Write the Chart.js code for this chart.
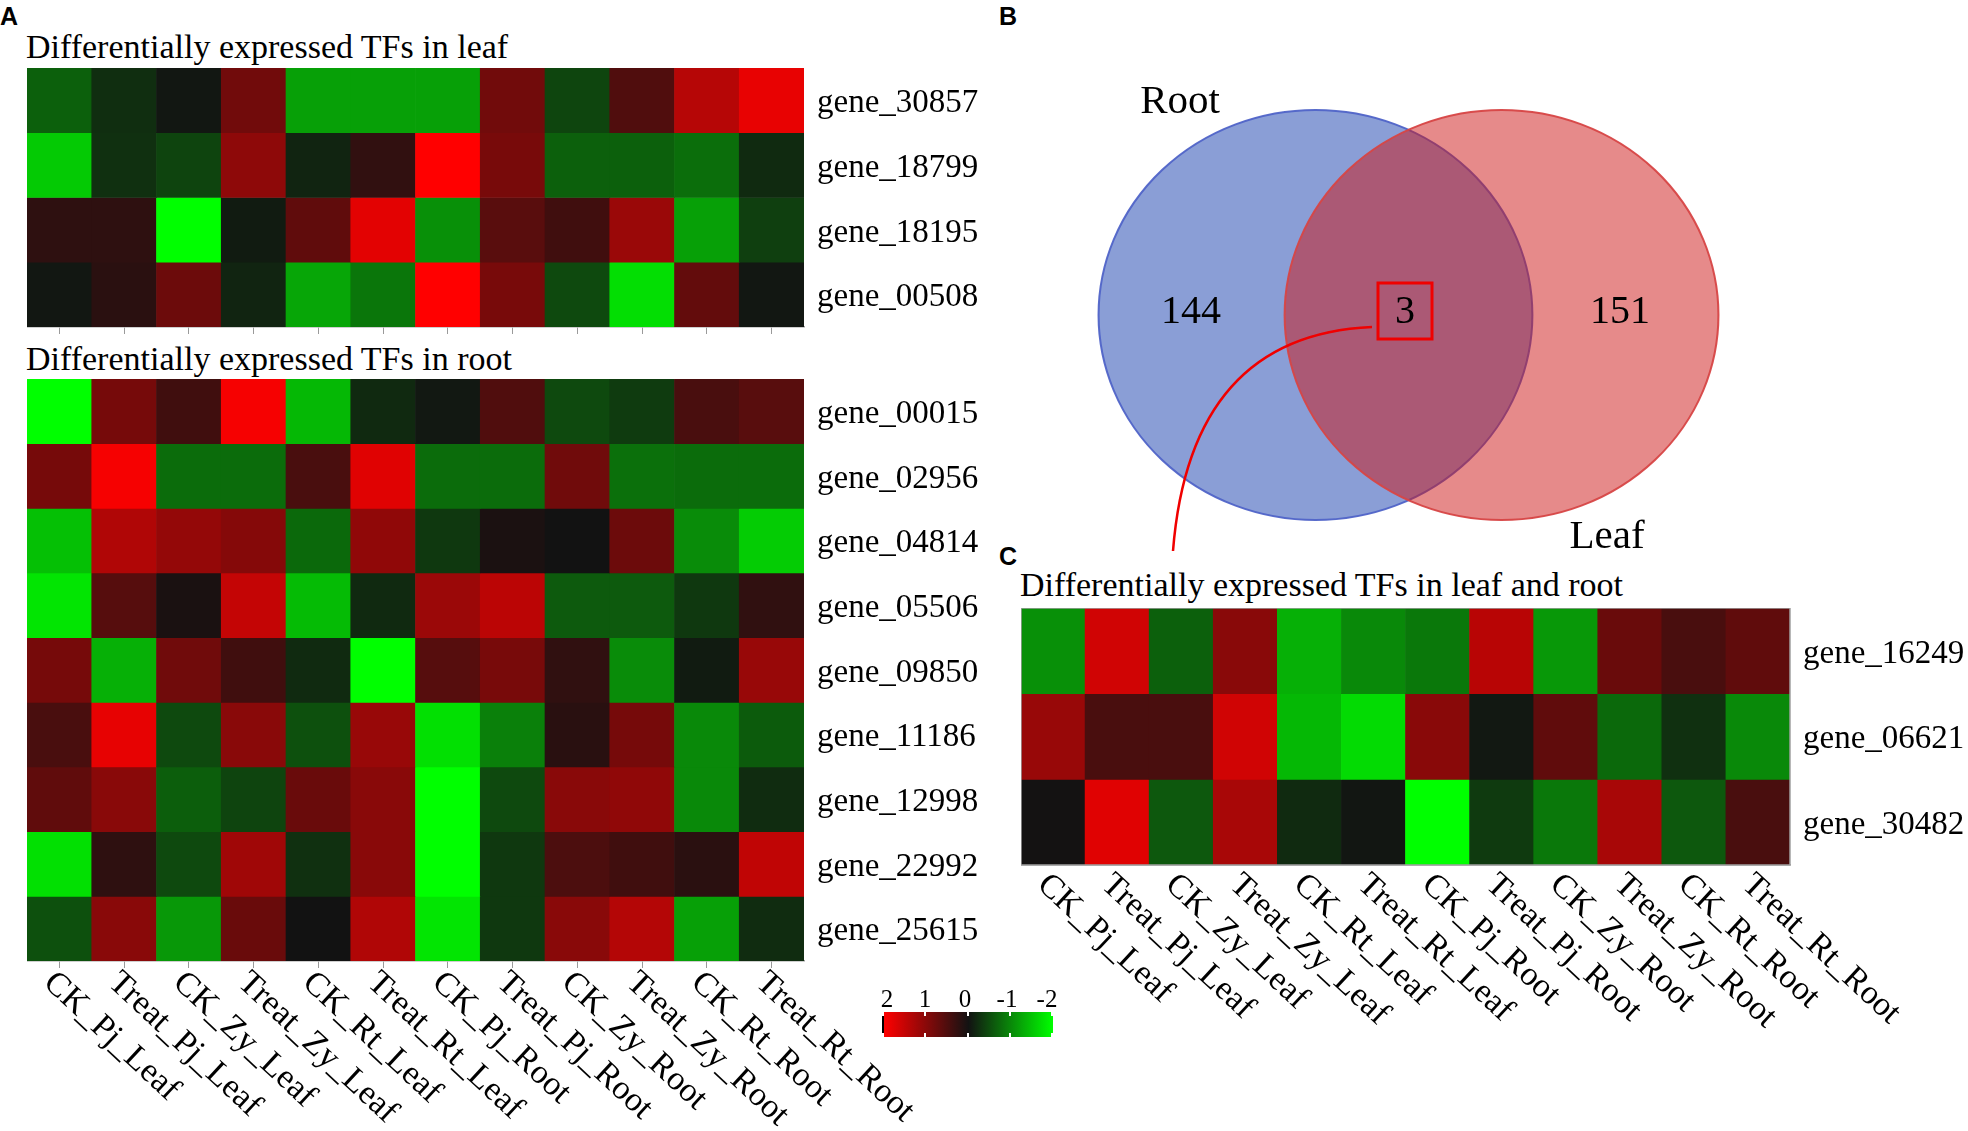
<!DOCTYPE html>
<html>
<head>
<meta charset="utf-8">
<script src="https://cdn.jsdelivr.net/npm/chart.js@4.4.1/dist/chart.umd.min.js"></script>
<style>
  html, body { margin: 0; padding: 0; background: #fff; }
  body { width: 1968px; height: 1131px; position: relative; overflow: hidden; font-family: "Liberation Serif", serif; }
  .abs { position: absolute; }
  .panel { font-family: "Liberation Sans", Arial, sans-serif; font-weight: bold; font-size: 25px; line-height: 25px; }
  .title { font-size: 34px; line-height: 34px; white-space: nowrap; color: #000; }
  #scaleBar { left: 882px; top: 1012px; width: 171px; height: 25px;
    background: linear-gradient(to right, #ff0000, #121212 50%, #00ff00); border-left: 2px solid #000; box-sizing: border-box; }
  .tk { position: absolute; width: 2px; height: 4px; background: #fff; }
  .scaleLbl { position: absolute; top: 986px; font-size: 25px; line-height: 25px; transform: translateX(-50%); }
</style>
</head>
<body>
<div class="abs panel" style="left:0px;top:4px">A</div>
<div class="abs panel" style="left:999px;top:4px">B</div>
<div class="abs panel" style="left:999px;top:544px">C</div>

<div class="abs title" style="left:26px;top:30px">Differentially expressed TFs in leaf</div>
<div class="abs title" style="left:26px;top:342px">Differentially expressed TFs in root</div>
<div class="abs title" style="left:1020px;top:568px">Differentially expressed TFs in leaf and root</div>

<canvas id="leafChart" class="abs" width="977" height="269" style="left:27px;top:68px"></canvas>
<canvas id="rootChart" class="abs" width="977" height="752" style="left:27px;top:379px"></canvas>
<canvas id="commonChart" class="abs" width="947" height="457" style="left:1021px;top:608px"></canvas>
<canvas id="vennChart" class="abs" width="700" height="490" style="left:1060px;top:70px"></canvas>

<div id="scaleBar" class="abs"></div>
<div id="scaleLabels"></div>

<script>
// column labels shared by all three heatmaps
const samples = ['CK_Pj_Leaf', 'Treat_Pj_Leaf', 'CK_Zy_Leaf', 'Treat_Zy_Leaf', 'CK_Rt_Leaf', 'Treat_Rt_Leaf',
                 'CK_Pj_Root', 'Treat_Pj_Root', 'CK_Zy_Root', 'Treat_Zy_Root', 'CK_Rt_Root', 'Treat_Rt_Root'];

// A (top): TFs in leaf
const leafGenes = ['gene_30857', 'gene_18799', 'gene_18195', 'gene_00508'];
const leafValues = [
    [-0.66, -0.24, -0.04, 0.80, -1.20, -1.20, -1.20, 0.80, -0.43, 0.52, 1.38, 1.81],
    [-1.55, -0.25, -0.42, 1.05, -0.15, 0.26, 2.00, 0.86, -0.66, -0.66, -0.78, -0.20],
    [0.24, 0.24, -2.00, -0.08, 0.66, 1.76, -1.06, 0.60, 0.39, 1.15, -1.20, -0.38],
    [-0.04, 0.20, 0.76, -0.15, -1.25, -0.84, 2.00, 0.86, -0.46, -1.72, 0.68, -0.04]
];

// A (bottom): TFs in root
const rootGenes = ['gene_00015', 'gene_02956', 'gene_04814', 'gene_05506', 'gene_09850',
                   'gene_11186', 'gene_12998', 'gene_22992', 'gene_25615'];
const rootValues = [
    [-2.00, 0.84, 0.39, 1.92, -1.40, -0.19, -0.05, 0.52, -0.46, -0.35, 0.46, 0.59],
    [0.84, 1.92, -0.76, -0.76, 0.46, 1.74, -0.76, -0.76, 0.79, -0.79, -0.76, -0.76],
    [-1.47, 1.33, 1.10, 0.97, -0.73, 1.06, -0.32, 0.08, 0.00, 0.76, -1.03, -1.57],
    [-1.78, 0.57, 0.07, 1.50, -1.43, -0.19, 1.16, 1.43, -0.61, -0.61, -0.32, 0.25],
    [0.84, -1.33, 0.79, 0.39, -0.20, -2.00, 0.57, 0.86, 0.25, -1.03, -0.08, 1.13],
    [0.46, 1.80, -0.46, 1.00, -0.52, 1.13, -1.74, -0.93, 0.19, 0.84, -1.00, -0.62],
    [0.66, 1.00, -0.64, -0.42, 0.73, 1.00, -2.00, -0.46, 1.00, 1.06, -1.00, -0.22],
    [-1.74, 0.24, -0.46, 1.20, -0.25, 1.00, -2.00, -0.32, 0.49, 0.39, 0.20, 1.47],
    [-0.52, 1.00, -1.13, 0.73, 0.00, 1.33, -1.78, -0.32, 1.00, 1.37, -1.20, -0.22]
];

// C: TFs shared by leaf and root
const commonGenes = ['gene_16249', 'gene_06621', 'gene_30482'];
const commonValues = [
    [-1.06, 1.60, -0.66, 1.00, -1.33, -1.00, -0.86, 1.40, -1.13, 0.73, 0.46, 0.66],
    [1.13, 0.46, 0.46, 1.60, -1.40, -1.70, 1.00, -0.05, 0.66, -0.73, -0.25, -1.00],
    [0.02, 1.74, -0.59, 1.27, -0.20, -0.03, -2.00, -0.34, -0.86, 1.27, -0.59, 0.46]
];

// colour key
const scaleTicks = [2, 1, 0, -1, -2];

// B: Venn
const vennSets = ['Root', 'Leaf'];
const vennCounts = [144, 3, 151];   // root only, both, leaf only

const serif = 'Liberation Serif';

// red - black - green colour map
function toColor(v) {
    const t = Math.min(Math.abs(v), 2) / 2;
    const hi = Math.round(18 + 237 * t);
    const lo = Math.round(18 * (1 - t));
    return v >= 0 ? `rgb(${hi},${lo},${lo})` : `rgb(${lo},${hi},${lo})`;
}

// sample names slanted under the heatmap
const slantLabels = (dx, dy) => ({
    id: 'slantLabels',
    afterDraw(chart) {
        const { ctx, chartArea } = chart;
        const xs = chart.scales.x;
        ctx.save();
        ctx.font = `34px "${serif}"`;
        ctx.fillStyle = '#000';
        ctx.textAlign = 'left';
        ctx.textBaseline = 'middle';
        xs.ticks.forEach((t, i) => {
            ctx.save();
            ctx.translate(xs.getPixelForTick(i) + dx, chartArea.bottom + dy);
            ctx.rotate(43 * Math.PI / 180);
            ctx.fillText(xs.getLabelForValue(t.value), 0, 0);
            ctx.restore();
        });
        ctx.restore();
    }
});

const framePlugin = {
    id: 'frame',
    afterDatasetsDraw(chart) {
        const { ctx, chartArea: a } = chart;
        ctx.save();
        ctx.strokeStyle = '#a0a0a0';
        ctx.lineWidth = 1.5;
        ctx.strokeRect(a.left, a.top, a.right - a.left, a.bottom - a.top);
        ctx.restore();
    }
};

function heatmap(id, genes, values, opt) {
    const datasets = genes.map((gene, r) => ({
        label: gene,
        data: samples.map(() => [r, r + 1]),
        backgroundColor: values[r].map(toColor),
        borderWidth: 0,
        grouped: false,
        barPercentage: 1,
        categoryPercentage: 1
    }));
    return new Chart(document.getElementById(id), {
        type: 'bar',
        data: { labels: samples, datasets: datasets },
        options: {
            responsive: false,
            animation: false,
            events: [],
            layout: { padding: 0, autoPadding: false },
            plugins: { legend: { display: false }, tooltip: { enabled: false } },
            scales: {
                x: {
                    offset: true,
                    grid: { display: opt.ticks, drawOnChartArea: false, drawTicks: opt.ticks, tickLength: 7, color: '#9a9a9a', offset: false },
                    border: { display: true, color: '#a0a0a0', width: 1.5 },
                    ticks: { display: false, autoSkip: false },
                    afterFit: s => { s.height = opt.bottom; s.paddingLeft = 0; s.paddingRight = 0; }
                },
                y: {
                    type: 'linear',
                    position: 'right',
                    min: 0,
                    max: genes.length,
                    reverse: true,
                    grid: { display: false, drawTicks: false },
                    border: { display: false },
                    afterBuildTicks: s => { s.ticks = genes.map((g, i) => ({ value: i + 0.5 })); },
                    ticks: {
                        autoSkip: false,
                        padding: 13,
                        labelOffset: 3,
                        color: '#000',
                        font: { family: serif, size: 33 },
                        callback: v => genes[Math.floor(v)]
                    },
                    afterFit: s => { s.width = opt.right; s.paddingTop = 0; s.paddingBottom = 0; }
                }
            }
        },
        plugins: opt.plugins
    });
}

heatmap('leafChart', leafGenes, leafValues, { ticks: true, bottom: 10, right: 200, plugins: [] });
heatmap('rootChart', rootGenes, rootValues, { ticks: true, bottom: 170, right: 200, plugins: [slantLabels(-11, 17)] });
heatmap('commonChart', commonGenes, commonValues, { ticks: false, bottom: 200, right: 178, plugins: [framePlugin, slantLabels(-11, 15)] });

// Venn layout, in canvas pixels (y down); the sets are drawn slightly oval
const vennCenters = [[258, 245], [439, 245]];
const vennRadius = 211;
const vennStretch = [1.028, 0.972];
const setLabelPos = [[120, 32], [547, 467]];
const countPos = [[131, 242], [345, 242], [560, 242]];
const boxRect = [318, 213, 372, 269];
const linkCurve = [[312, 257], [130, 265], [113, 481]];

const vennAnnotations = {
    id: 'vennAnnotations',
    beforeDatasetsDraw(chart) {
        const { ctx } = chart;
        const cx = vennCenters.reduce((s, c) => s + chart.scales.x.getPixelForValue(c[0]), 0) / vennCenters.length;
        const cy = vennCenters.reduce((s, c) => s + chart.scales.y.getPixelForValue(c[1]), 0) / vennCenters.length;
        ctx.save();
        ctx.translate(cx, cy);
        ctx.scale(vennStretch[0], vennStretch[1]);
        ctx.translate(-cx, -cy);
    },
    afterDatasetsDraw(chart) {
        const { ctx } = chart;
        ctx.restore();
        const px = v => chart.scales.x.getPixelForValue(v);
        const py = v => chart.scales.y.getPixelForValue(v);
        ctx.save();
        ctx.fillStyle = '#000';
        ctx.textAlign = 'center';
        ctx.textBaseline = 'middle';
        ctx.font = `41px "${serif}"`;
        vennSets.forEach((name, i) => ctx.fillText(name, px(setLabelPos[i][0]), py(setLabelPos[i][1])));
        ctx.font = `40px "${serif}"`;
        vennCounts.forEach((n, i) => ctx.fillText(String(n), px(countPos[i][0]), py(countPos[i][1])));

        ctx.strokeStyle = '#f00000';
        ctx.lineWidth = 3;
        ctx.strokeRect(px(boxRect[0]), py(boxRect[1]), px(boxRect[2]) - px(boxRect[0]), py(boxRect[3]) - py(boxRect[1]));

        ctx.lineWidth = 2.5;
        ctx.beginPath();
        ctx.moveTo(px(linkCurve[0][0]), py(linkCurve[0][1]));
        ctx.quadraticCurveTo(px(linkCurve[1][0]), py(linkCurve[1][1]), px(linkCurve[2][0]), py(linkCurve[2][1]));
        ctx.stroke();
        ctx.restore();
    }
};

new Chart(document.getElementById('vennChart'), {
    type: 'bubble',
    data: {
        datasets: [{
            label: 'Venn',
            data: vennSets.map((s, i) => ({ x: vennCenters[i][0], y: vennCenters[i][1], r: vennRadius })),
            backgroundColor: ['rgba(42, 79, 180, 0.55)', 'rgba(205, 21, 21, 0.5)'],
            borderColor: ['rgba(80, 100, 200, 0.95)', 'rgba(215, 70, 70, 0.95)'],
            borderWidth: 2,
            clip: false
        }]
    },
    options: {
        responsive: false,
        animation: false,
        events: [],
        layout: { padding: 0, autoPadding: false },
        plugins: { legend: { display: false }, tooltip: { enabled: false } },
        scales: {
            x: { type: 'linear', display: false, min: 0, max: 700 },
            y: { type: 'linear', display: false, min: 0, max: 490, reverse: true }
        }
    },
    plugins: [vennAnnotations]
});

// colour key
const barLeft = 882, barWidth = 171, barTop = 1012;
const lblCenters = [887, 925, 965, 1007, 1047];
let keyHtml = '';
scaleTicks.forEach((v, i) => {
    const x = barLeft + i * (barWidth - 2) / (scaleTicks.length - 1);
    keyHtml += `<div class="tk" style="left:${x}px;top:${barTop}px"></div>`;
    keyHtml += `<div class="tk" style="left:${x}px;top:${barTop + 21}px"></div>`;
    keyHtml += `<div class="scaleLbl" style="left:${lblCenters[i]}px">${v}</div>`;
});
document.getElementById('scaleLabels').innerHTML = keyHtml;
</script>
</body>
</html>
